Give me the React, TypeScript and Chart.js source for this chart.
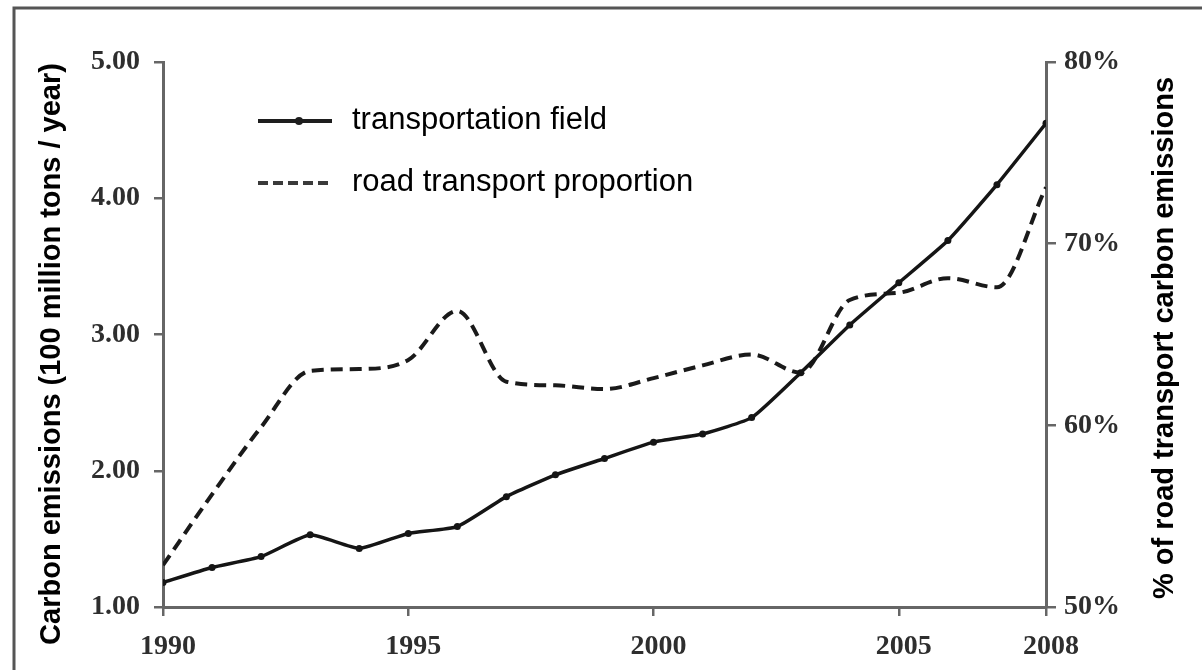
import React, { useEffect, useRef } from 'react';
import { Chart, registerables } from 'chart.js';

Chart.register(...registerables);

// ---- data ----
const years = [1990, 1991, 1992, 1993, 1994, 1995, 1996, 1997, 1998, 1999, 2000, 2001, 2002, 2003, 2004, 2005, 2006, 2007, 2008];
const transportEmissions = [1.18, 1.29, 1.37, 1.53, 1.43, 1.54, 1.59, 1.81, 1.97, 2.09, 2.21, 2.27, 2.39, 2.72, 3.07, 3.38, 3.69, 4.10, 4.55];
const roadShare = [52.3, 56.2, 59.9, 63.0, 63.1, 63.6, 66.3, 62.4, 62.2, 62.0, 62.6, 63.3, 63.9, 62.9, 66.9, 67.3, 68.1, 67.6, 73.1];
const xTickYears = [1990, 1995, 2000, 2005, 2008];
const leftTicks = [1, 2, 3, 4, 5];
const rightTicks = [50, 60, 70, 80];
const seriesNames = ['transportation field', 'road transport proportion'];
const leftTitle = 'Carbon emissions (100 million tons / year)';
const rightTitle = '% of road transport carbon emissions';

const SERIF = '"Liberation Serif", "Times New Roman", serif';
const SANS = '"Liberation Sans", Arial, sans-serif';
const AXIS_COLOR = '#666666';
const TICK_COLOR = '#2e2e2e';

const decorPlugin = {
  id: 'decor',
  beforeDraw(chart: any) {
    const { ctx, width, height } = chart;
    ctx.save();
    ctx.fillStyle = '#ffffff';
    ctx.fillRect(0, 0, width, height);
    ctx.strokeStyle = '#555555';
    ctx.lineWidth = 3;
    ctx.beginPath();
    ctx.moveTo(14, height);
    ctx.lineTo(14, 8);
    ctx.lineTo(width, 8);
    ctx.stroke();
    ctx.restore();
  },
  afterDraw(chart: any) {
    const { ctx } = chart;
    ctx.save();
    // legend
    ctx.strokeStyle = '#1e1e1e';
    ctx.lineWidth = 4;
    ctx.setLineDash([]);
    ctx.beginPath();
    ctx.moveTo(258, 121);
    ctx.lineTo(332, 121);
    ctx.stroke();
    ctx.fillStyle = '#1e1e1e';
    ctx.beginPath();
    ctx.arc(299, 121, 4, 0, Math.PI * 2);
    ctx.fill();
    ctx.strokeStyle = '#3a3a3a';
    ctx.setLineDash([10, 5]);
    ctx.beginPath();
    ctx.moveTo(258, 183);
    ctx.lineTo(332, 183);
    ctx.stroke();
    ctx.setLineDash([]);
    ctx.fillStyle = '#000000';
    ctx.font = '31px ' + SANS;
    ctx.textAlign = 'left';
    ctx.textBaseline = 'alphabetic';
    ctx.fillText(seriesNames[0], 352, 129);
    ctx.fillText(seriesNames[1], 352, 191);

    // axis titles
    ctx.font = 'bold 29px ' + SANS;
    ctx.textAlign = 'center';
    ctx.save();
    ctx.translate(60, 354);
    ctx.rotate(-Math.PI / 2);
    ctx.fillText(leftTitle, 0, 0);
    ctx.restore();
    ctx.save();
    ctx.translate(1173, 338);
    ctx.rotate(-Math.PI / 2);
    ctx.fillText(rightTitle, 0, 0);
    ctx.restore();
    ctx.restore();
  },
};

export default function App() {
  const canvasRef = useRef<HTMLCanvasElement | null>(null);

  useEffect(() => {
    if (!canvasRef.current) return;
    const tickFont = { family: SERIF, size: 28, weight: 'bold' };
    const chart = new Chart(canvasRef.current, {
      type: 'line',
      data: {
        datasets: [
          {
            label: seriesNames[0],
            data: years.map((y, i) => ({ x: y, y: transportEmissions[i] })),
            yAxisID: 'y',
            borderColor: '#151515',
            backgroundColor: '#151515',
            borderWidth: 3.5,
            pointRadius: 3.5,
            pointBackgroundColor: '#151515',
            pointBorderWidth: 0,
            tension: 0.15,
            fill: false,
          },
          {
            label: seriesNames[1],
            data: years.map((y, i) => ({ x: y, y: roadShare[i] })),
            yAxisID: 'y1',
            borderColor: '#1a1a1a',
            borderWidth: 4,
            borderDash: [12, 7],
            pointRadius: 0,
            cubicInterpolationMode: 'monotone',
            fill: false,
          },
        ],
      },
      options: {
        animation: false,
        responsive: false,
        maintainAspectRatio: false,
        devicePixelRatio: 1,
        layout: { padding: { top: 62, left: 0, right: 0, bottom: 0 } },
        plugins: {
          legend: { display: false },
          tooltip: { enabled: false },
          title: { display: false },
        },
        scales: {
          x: {
            type: 'linear',
            position: 'bottom',
            min: 1990,
            max: 2008,
            afterBuildTicks: (s: any) => {
              s.ticks = xTickYears.map((v) => ({ value: v }));
            },
            afterFit: (s: any) => {
              s.height = 63;
            },
            ticks: {
              autoSkip: false,
              maxRotation: 0,
              minRotation: 0,
              padding: 14,
              labelOffset: 5,
              color: TICK_COLOR,
              font: tickFont,
              callback: (v: any) => String(v),
            },
            grid: { drawOnChartArea: false, drawTicks: true, tickLength: 9, color: AXIS_COLOR, lineWidth: 2.5 },
            border: { display: true, color: AXIS_COLOR, width: 3 },
          },
          y: {
            type: 'linear',
            position: 'left',
            min: 1,
            max: 5,
            afterBuildTicks: (s: any) => {
              s.ticks = leftTicks.map((v) => ({ value: v }));
            },
            afterFit: (s: any) => {
              s.width = 163;
            },
            ticks: {
              padding: 14,
              color: TICK_COLOR,
              font: tickFont,
              callback: (v: any) => Number(v).toFixed(2),
            },
            grid: { drawOnChartArea: false, drawTicks: true, tickLength: 9, color: AXIS_COLOR, lineWidth: 2.5 },
            border: { display: true, color: AXIS_COLOR, width: 3 },
          },
          y1: {
            type: 'linear',
            position: 'right',
            min: 50,
            max: 80,
            afterBuildTicks: (s: any) => {
              s.ticks = rightTicks.map((v) => ({ value: v }));
            },
            afterFit: (s: any) => {
              s.width = 156;
            },
            ticks: {
              padding: 8,
              color: TICK_COLOR,
              font: tickFont,
              callback: (v: any) => v + '%',
            },
            grid: { drawOnChartArea: false, drawTicks: true, tickLength: 10, color: AXIS_COLOR, lineWidth: 2.5 },
            border: { display: true, color: AXIS_COLOR, width: 3 },
          },
        },
      } as any,
      plugins: [decorPlugin],
    });
    return () => chart.destroy();
  }, []);

  return (
    <div style={{ position: 'absolute', left: 0, top: 0, width: 1202, height: 670 }}>
      <canvas ref={canvasRef} width={1202} height={670} style={{ display: 'block', width: 1202, height: 670 }} />
    </div>
  );
}
